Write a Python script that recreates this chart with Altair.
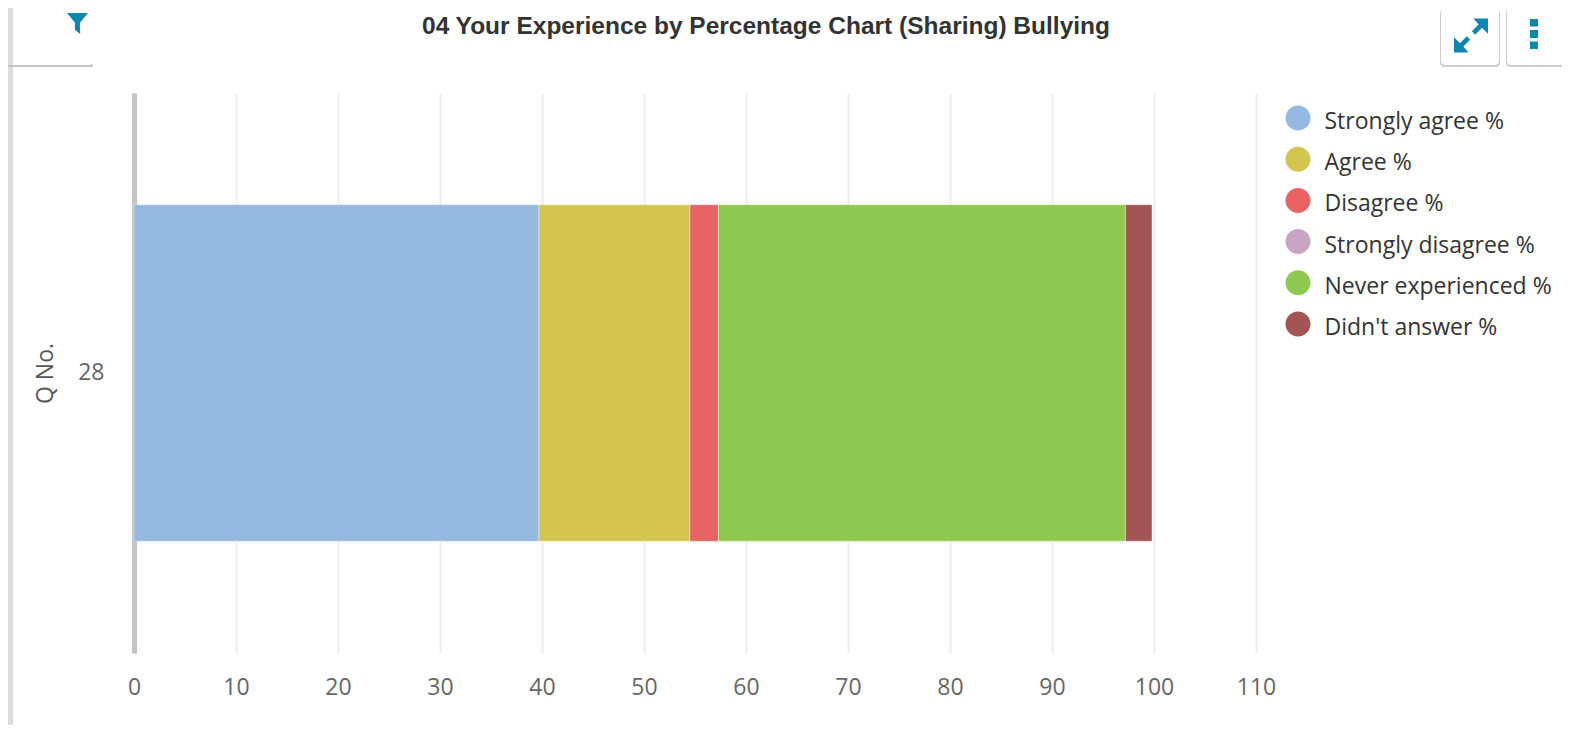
import altair as alt
import pandas as pd

categories = ["Strongly agree %", "Agree %", "Disagree %", "Strongly disagree %", "Never experienced %", "Didn't answer %"]
values = [39.7, 14.8, 2.8, 0.0, 39.9, 2.6]
colors = ["#95b9e0", "#d3c550", "#e86464", "#c8a5c2", "#90c951", "#a35455"]
question = ["28"] * 6
order = [0, 1, 2, 3, 4, 5]
chart_title = "04 Your Experience by Percentage Chart (Sharing) Bullying"

PLOT_LEFT, PLOT_TOP = 134, 93
PW, PH = 1122, 560
df = pd.DataFrame({"q": question, "cat": categories, "v": values, "o": order})

FUNNEL = "M-1 -1 H1 L0.25 -0.1 V1 L-0.25 0.6 V-0.1 Z"
EXPAND = ("M1 -1 L0.15 -1 L0.45 -0.65 L0.05 -0.25 L0.25 -0.05 L0.65 -0.45 L1 -0.1 Z "
          "M-1 1 L-0.15 1 L-0.45 0.65 L-0.05 0.25 L-0.25 0.05 L-0.65 0.45 L-1 0.1 Z")
KEBAB = ("M-0.27 -1 H0.27 V-0.5 H-0.27 Z M-0.27 -0.27 H0.27 V0.27 H-0.27 Z "
         "M-0.27 0.5 H0.27 V1 H-0.27 Z")
RAISED_CIRCLE = "M-1 -0.32 A1 1 0 1 0 1 -0.32 A1 1 0 1 0 -1 -0.32 Z"
ICON = "#0f86ad"
one = alt.Data(values=[{"a": 1}])


def box(x0, y0, x1, y1, color, radius=0, opacity=1.0):
    return alt.Chart(one).mark_rect(color=color, cornerRadius=radius, opacity=opacity).encode(
        x=alt.value(x0 - PLOT_LEFT), x2=alt.value(x1 - PLOT_LEFT),
        y=alt.value(y0 - PLOT_TOP), y2=alt.value(y1 - PLOT_TOP))


def icon(path, cx, cy, size):
    return alt.Chart(one).mark_point(filled=True, color=ICON, opacity=1, size=size, shape=path).encode(
        x=alt.value(cx - PLOT_LEFT), y=alt.value(cy - PLOT_TOP))


bars = alt.Chart(df).mark_bar(stroke="#ffffff", strokeWidth=0.6, strokeOpacity=0.6).encode(
    x=alt.X("v:Q", stack="zero",
            scale=alt.Scale(domain=[0, 110], nice=False),
            axis=alt.Axis(values=list(range(0, 111, 10)), title=None, domain=False, ticks=False,
                          labelFont="Open Sans", labelFontSize=23, labelColor="#666666", labelPadding=23,
                          labelFlush=False, labelOverlap=False,
                          grid=True, gridColor="#eeeeee", gridWidth=2)),
    y=alt.Y("q:N", scale=alt.Scale(paddingInner=0, paddingOuter=0.332),
            axis=alt.Axis(title="Q No.", titleFont="Open Sans", titleFontSize=23, titleFontWeight="normal",
                          titleColor="#555555", titlePadding=20, labelFont="Open Sans", labelFontSize=23,
                          labelColor="#666666", labelAngle=0, labelPadding=30, ticks=False, domain=True,
                          domainColor="#c4c4c4", domainWidth=5, grid=False)),
    color=alt.Color("cat:N", scale=alt.Scale(domain=categories, range=colors),
                    legend=alt.Legend(title=None, orient="none", legendX=1151.5, legendY=16.5, symbolType=RAISED_CIRCLE,
                                      symbolSize=625, symbolStrokeWidth=0, symbolOpacity=1,
                                      labelFont="Open Sans", labelFontSize=23, labelColor="#333333",
                                      labelOffset=14, rowPadding=12.2, labelLimit=300)),
    order=alt.Order("o:Q"),
)

title_text = alt.Chart(alt.Data(values=[{"t": chart_title}])).mark_text(
    font="Liberation Sans", fontSize=24.5, fontWeight="bold", color="#333333", align="center", baseline="middle"
).encode(x=alt.value(766 - PLOT_LEFT), y=alt.value(27 - PLOT_TOP), text="t:N")

chart = alt.layer(
    box(8, 8, 13, 725, "#dddddd"),
    box(8, 64, 93, 67, "#c4c4c4", 2),
    box(8, 8, 92, 65, "#ffffff", 2),
    box(8, 8, 13, 65, "#dddddd"),
    box(1440, 9, 1500, 67, "#cfcfcf", 4),
    box(1441, 8, 1499, 65, "#ffffff", 4),
    box(1506, 9, 1566, 67, "#cfcfcf", 4),
    box(1507, 8, 1565, 65, "#ffffff", 4),
    bars,
    title_text,
    icon(FUNNEL, 77.5, 23.5, 441),
    icon(EXPAND, 1471, 35.5, 1156),
    icon(KEBAB, 1534, 34, 900),
).resolve_scale(x="shared", y="shared").properties(
    width=PW, height=PH,
    padding={"left": 126, "top": 85, "right": 306, "bottom": 72},
    autosize=alt.AutoSizeParams(type="none"),
    background="#ffffff",
).configure_view(stroke=None)

chart.save("out.html", embed_options={"renderer": "svg", "actions": False})
